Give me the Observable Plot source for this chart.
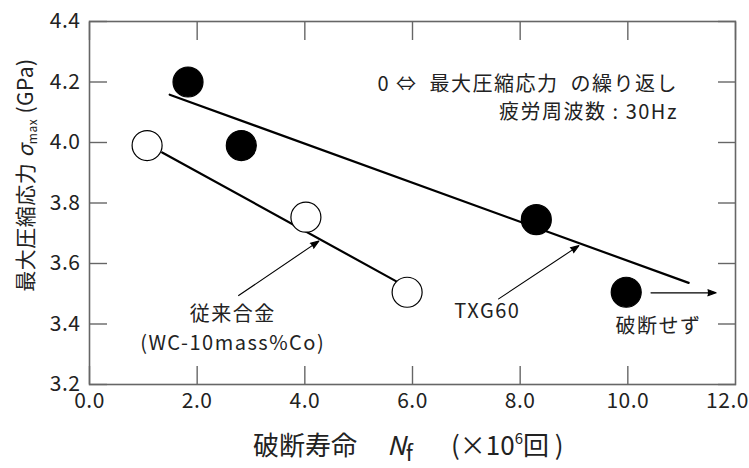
<!DOCTYPE html>
<html>
<head>
<meta charset="utf-8">
<script src="https://cdn.jsdelivr.net/npm/d3@7"></script>
<script src="https://cdn.jsdelivr.net/npm/@observablehq/plot@0.6"></script>
<style>
  html, body { margin: 0; padding: 0; background: #fff; }
  #chart { width: 749px; height: 468px; }
  svg { font-family: "Noto Sans CJK JP", "Noto Sans", sans-serif; }
</style>
</head>
<body>
<div id="chart"></div>
<script>
// ---- data ----
const txgLife = [1.83, 2.82, 8.3, 9.97];           // ×10^6 cycles
const txgStress = [4.2, 3.99, 3.745, 3.505];         // GPa
const convLife = [1.07, 4.02, 5.9];
const convStress = [3.99, 3.753, 3.505];

const txgFitX = [1.49, 11.13];
const txgFitY = [4.158, 3.536];
const convFitX = [1.35, 5.70];
const convFitY = [3.967, 3.541];

const xTicks = [0, 2, 4, 6, 8, 10, 12];
const yTicks = [3.2, 3.4, 3.6, 3.8, 4.0, 4.2, 4.4];

const arrowX1 = [2.77, 7.60, 10.43];
const arrowY1 = [3.494, 3.483, 3.503];
const arrowX2 = [4.26, 9.09, 11.64];
const arrowY2 = [3.674, 3.659, 3.503];

const noteText = ["0\u00a0⇔\u00a0 最大圧縮応力\u00a0 の繰り返し", "疲労周波数 : 30Hz"];
const noteX = [10.93, 10.93];
const noteY = [4.19, 4.098];

const labelText = ["従来合金", "(WC-10mass%Co)", "TXG60", "破断せず"];
const labelX = [2.66, 2.66, 7.39, 10.57];
const labelY = [3.43, 3.335, 3.44, 3.39];

// ---- tables ----
const points = [
  ...txgLife.map((x, i) => ({x, y: txgStress[i], s: "TXG60"})),
  ...convLife.map((x, i) => ({x, y: convStress[i], s: "conv"}))
];
const fits = [
  ...txgFitX.map((x, i) => ({x, y: txgFitY[i], s: "TXG60"})),
  ...convFitX.map((x, i) => ({x, y: convFitY[i], s: "conv"}))
];
const arrows = arrowX1.map((x1, i) => ({x1, y1: arrowY1[i], x2: arrowX2[i], y2: arrowY2[i]}));
const notes = noteText.map((t, i) => ({t, x: noteX[i], y: noteY[i]}));
const labels = labelText.map((t, i) => ({t, x: labelX[i], y: labelY[i]}));

const axisColor = "#666";
const tickFs = 21;
const noteFs = 20;
const fmt = d3.format(".1f");

const chart = Plot.plot({
  width: 749,
  height: 468,
  marginLeft: 89,
  marginRight: 14,
  marginTop: 21,
  marginBottom: 84,
  style: {fontSize: tickFs + "px", fontFamily: '"Noto Sans CJK JP", sans-serif', color: "#222", background: "#fff"},
  x: {domain: [0, 12]},
  y: {domain: [3.2, 4.4]},
  marks: [
    Plot.frame({stroke: axisColor, strokeWidth: 1.6}),
    Plot.axisX({anchor: "bottom", ticks: xTicks.slice(0, -1), tickSize: -18, tickPadding: 27, stroke: axisColor, strokeWidth: 1.4, tickFormat: fmt, label: null, fill: "#222", fontSize: tickFs}),
    Plot.axisX({anchor: "bottom", ticks: xTicks.slice(-1), tickSize: 0, tickPadding: 9, dx: -8, tickFormat: fmt, label: null, fill: "#222", fontSize: tickFs}),
    Plot.axisX({anchor: "top", ticks: xTicks, tickSize: -18, stroke: axisColor, strokeWidth: 1.4, tickFormat: () => "", label: null}),
    Plot.axisY({anchor: "left", ticks: yTicks, tickSize: -18, tickPadding: 27, stroke: axisColor, strokeWidth: 1.4, tickFormat: fmt, label: null, fill: "#222", fontSize: tickFs}),
    Plot.axisY({anchor: "right", ticks: yTicks, tickSize: -18, stroke: axisColor, strokeWidth: 1.4, tickFormat: () => "", label: null}),
    Plot.line(fits, {x: "x", y: "y", z: "s", stroke: "#000", strokeWidth: 2.2}),
    Plot.arrow(arrows, {x1: "x1", y1: "y1", x2: "x2", y2: "y2", stroke: "#000", fill: "#000", strokeWidth: 1.1, headLength: 12, headAngle: 40}),
    Plot.dot(points, {x: "x", y: "y", r: 15, stroke: "#000", strokeWidth: 1.2, fill: d => d.s === "TXG60" ? "#000" : "#fff"}),
    Plot.text(notes, {x: "x", y: "y", text: "t", textAnchor: "end", fontSize: noteFs, fill: "#222"}),
    Plot.text(labels, {x: "x", y: "y", text: "t", textAnchor: "middle", fontSize: noteFs, fill: "#222"})
  ]
});

document.getElementById("chart").appendChild(chart);

const svg = d3.select(chart);
// letter spacing like the reference lettering
svg.selectAll("g[aria-label='text'] text").style("letter-spacing", "1.5px");
svg.selectAll("g[aria-label='x-axis tick label'] text, g[aria-label='y-axis tick label'] text").style("letter-spacing", "0.5px");

// axis titles with italic / sub / superscripts
const yt = svg.append("text")
  .attr("transform", "translate(33,175) rotate(-90)")
  .attr("text-anchor", "middle")
  .attr("fill", "#222")
  .style("font-size", "21px")
  .style("letter-spacing", "0.5px");
yt.append("tspan").text("最大圧縮応力 ");
yt.append("tspan").attr("font-style", "italic").text("σ");
yt.append("tspan").attr("dy", 4).style("font-size", "12px").text("max");
yt.append("tspan").attr("dy", -4).text(" (GPa)");

const xt = svg.append("text")
  .attr("x", 253).attr("y", 455)
  .attr("text-anchor", "start")
  .attr("fill", "#222")
  .style("font-size", "26px");
xt.append("tspan").text("破断寿命");
xt.append("tspan").attr("dx", 30).attr("font-style", "italic").text("N");
xt.append("tspan").attr("dy", 6).style("font-size", "22px").text("f");
xt.append("tspan").attr("dy", -6).attr("dx", 38).text("(×10");
xt.append("tspan").attr("dy", -11).style("font-size", "15px").text("6");
xt.append("tspan").attr("dy", 11).text("回\u00a0)");
</script>
</body>
</html>
